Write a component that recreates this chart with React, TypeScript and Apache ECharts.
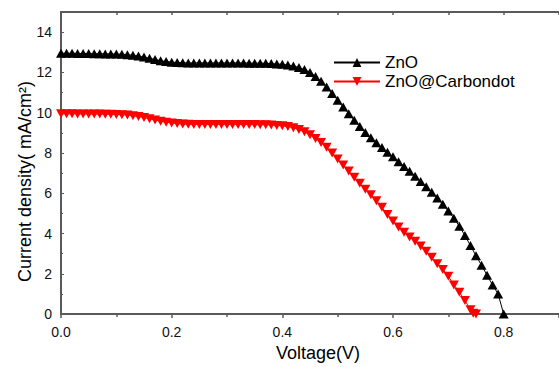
import React, { useEffect, useRef } from "react";
import * as echarts from "echarts";

const znoVoltage = [
  0.00, 0.01, 0.02, 0.03, 0.04, 0.05, 0.06, 0.07, 0.08, 0.09,
  0.10, 0.11, 0.12, 0.13, 0.14, 0.15, 0.16, 0.17, 0.18, 0.19,
  0.20, 0.21, 0.22, 0.23, 0.24, 0.25, 0.26, 0.27, 0.28, 0.29,
  0.30, 0.31, 0.32, 0.33, 0.34, 0.35, 0.36, 0.37, 0.38, 0.39,
  0.40, 0.41, 0.42, 0.43, 0.44, 0.45, 0.46, 0.47, 0.48, 0.49,
  0.50, 0.51, 0.52, 0.53, 0.54, 0.55, 0.56, 0.57, 0.58, 0.59,
  0.60, 0.61, 0.62, 0.63, 0.64, 0.65, 0.66, 0.67, 0.68, 0.69,
  0.70, 0.71, 0.72, 0.73, 0.74, 0.75, 0.76, 0.77, 0.78, 0.79,
  0.80,
];
const znoCurrent = [
  12.95, 12.95, 12.95, 12.94, 12.94, 12.94, 12.93, 12.93, 12.92, 12.92,
  12.91, 12.90, 12.88, 12.85, 12.81, 12.76, 12.70, 12.64, 12.58, 12.54,
  12.51, 12.49, 12.48, 12.47, 12.47, 12.47, 12.47, 12.47, 12.47, 12.47,
  12.47, 12.47, 12.47, 12.47, 12.46, 12.46, 12.46, 12.45, 12.44, 12.42,
  12.40, 12.37, 12.32, 12.24, 12.14, 12.00, 11.80, 11.56, 11.27, 10.95,
  10.62, 10.28, 9.95, 9.63, 9.32, 9.02, 8.76, 8.51, 8.27, 8.04,
  7.81, 7.57, 7.33, 7.09, 6.84, 6.58, 6.32, 6.05, 5.76, 5.45,
  5.12, 4.76, 4.36, 3.90, 3.40, 2.90, 2.42, 1.93, 1.44, 1.00,
  0.00,
];

const carbonVoltage = [
  0.00, 0.01, 0.02, 0.03, 0.04, 0.05, 0.06, 0.07, 0.08, 0.09,
  0.10, 0.11, 0.12, 0.13, 0.14, 0.15, 0.16, 0.17, 0.18, 0.19,
  0.20, 0.21, 0.22, 0.23, 0.24, 0.25, 0.26, 0.27, 0.28, 0.29,
  0.30, 0.31, 0.32, 0.33, 0.34, 0.35, 0.36, 0.37, 0.38, 0.39,
  0.40, 0.41, 0.42, 0.43, 0.44, 0.45, 0.46, 0.47, 0.48, 0.49,
  0.50, 0.51, 0.52, 0.53, 0.54, 0.55, 0.56, 0.57, 0.58, 0.59,
  0.60, 0.61, 0.62, 0.63, 0.64, 0.65, 0.66, 0.67, 0.68, 0.69,
  0.70, 0.71, 0.72, 0.73, 0.74, 0.745, 0.75,
];
const carbonCurrent = [
  9.95, 9.95, 9.95, 9.94, 9.94, 9.94, 9.93, 9.93, 9.92, 9.92,
  9.91, 9.90, 9.88, 9.85, 9.81, 9.76, 9.70, 9.64, 9.58, 9.53,
  9.49, 9.46, 9.44, 9.43, 9.42, 9.42, 9.42, 9.42, 9.42, 9.42,
  9.42, 9.42, 9.42, 9.42, 9.41, 9.41, 9.40, 9.40, 9.39, 9.37,
  9.35, 9.31, 9.25, 9.16, 9.05, 8.90, 8.72, 8.52, 8.28, 8.00,
  7.70, 7.40, 7.10, 6.80, 6.50, 6.20, 5.92, 5.63, 5.30, 4.95,
  4.62, 4.33, 4.06, 3.83, 3.62, 3.38, 3.12, 2.82, 2.50, 2.22,
  1.88, 1.45, 1.08, 0.68, 0.22, 0.04, 0.00,
];

const seriesNames = ["ZnO", "ZnO@Carbondot"];
const xTickValues = [0.0, 0.2, 0.4, 0.6, 0.8];
const yTickValues = [0, 2, 4, 6, 8, 10, 12, 14];

const FONT = "'Liberation Sans', Arial, Helvetica, sans-serif";
const AXIS_COLOR = "#5a5a5a";

export default function App() {
  const ref = useRef<HTMLDivElement>(null);

  useEffect(() => {
    if (!ref.current) return;
    const chart = echarts.init(ref.current, undefined, { renderer: "svg" });

    const zno = znoVoltage.map((v, i) => [v, znoCurrent[i]]);
    const carbon = carbonVoltage.map((v, i) => [v, carbonCurrent[i]]);

    const option: any = {
      animation: false,
      backgroundColor: "#ffffff",
      grid: { left: 61, top: 12, width: 504, height: 309.5, containLabel: false },
      legend: {
        data: seriesNames,
        orient: "vertical",
        left: 328,
        top: 49,
        itemWidth: 46,
        itemHeight: 11,
        itemGap: 2,
        textStyle: { fontFamily: FONT, fontSize: 17, color: "#000", lineHeight: 17 },
      },
      xAxis: [
        {
          type: "value",
          min: 0,
          max: 0.9,
          interval: 0.2,
          position: "bottom",
          name: "Voltage(V)",
          nameLocation: "middle",
          nameGap: 27,
          nameTextStyle: { fontFamily: FONT, fontSize: 18, color: "#000", padding: [0, 0, 0, 16] },
          axisLine: { show: true, lineStyle: { color: AXIS_COLOR, width: 2 } },
          axisTick: { show: true, length: 4, inside: false, lineStyle: { color: AXIS_COLOR, width: 1.5 } },
          minorTick: { show: true, splitNumber: 2, length: 3, lineStyle: { color: AXIS_COLOR, width: 1.5 } },
          splitLine: { show: false },
          axisLabel: {
            fontFamily: FONT,
            fontSize: 14,
            color: "#111",
            margin: 11,
            showMaxLabel: false,
            formatter: (v: number) => (xTickValues.some((t) => Math.abs(t - v) < 1e-6) ? v.toFixed(1) : ""),
          },
        },
        {
          type: "value",
          min: 0,
          max: 0.9,
          interval: 0.1,
          position: "top",
          axisLine: { show: true, onZero: false, lineStyle: { color: AXIS_COLOR, width: 2 } },
          axisTick: { show: true, inside: true, length: 3, lineStyle: { color: AXIS_COLOR, width: 1.5 } },
          axisLabel: { show: false },
          splitLine: { show: false },
        },
      ],
      yAxis: [
        {
          type: "value",
          min: 0,
          max: 15,
          interval: 2,
          axisLine: { show: true, lineStyle: { color: AXIS_COLOR, width: 2 } },
          axisTick: { show: true, inside: true, length: 3, lineStyle: { color: AXIS_COLOR, width: 1 } },
          minorTick: { show: true, splitNumber: 2, length: 2, lineStyle: { color: AXIS_COLOR, width: 1 } },
          splitLine: { show: false },
          axisLabel: {
            fontFamily: FONT,
            fontSize: 14,
            color: "#111",
            margin: 9,
            showMaxLabel: false,
            formatter: (v: number) => (yTickValues.includes(v) ? String(v) : ""),
          },
        },
      ],
      graphic: [
        {
          type: "text",
          x: 25,
          y: 181.5,
          rotation: Math.PI / 2,
          style: {
            text: "Current density( mA/cm²)",
            fontFamily: FONT,
            fontSize: 18,
            fill: "#000",
            align: "center",
            verticalAlign: "middle",
          },
        },
      ],
      series: [
        {
          name: seriesNames[0],
          type: "line",
          data: zno,
          xAxisIndex: 0,
          color: "#000000",
          lineStyle: { color: "#000000", width: 1 },
          symbol: "triangle",
          symbolSize: [10, 9],
          itemStyle: { color: "#000000" },
          showAllSymbol: true,
          z: 3,
        },
        {
          name: seriesNames[1],
          type: "line",
          data: carbon,
          xAxisIndex: 0,
          color: "#ff0000",
          lineStyle: { color: "#ff0000", width: 1 },
          symbol: "triangle",
          symbolRotate: 180,
          symbolSize: [10, 9],
          itemStyle: { color: "#ff0000" },
          showAllSymbol: true,
          z: 2,
        },
      ],
    };

    chart.setOption(option);
    return () => chart.dispose();
  }, []);

  return (
    <div
      ref={ref}
      style={{ position: "absolute", left: 0, top: 0, width: 559, height: 367 }}
    />
  );
}
